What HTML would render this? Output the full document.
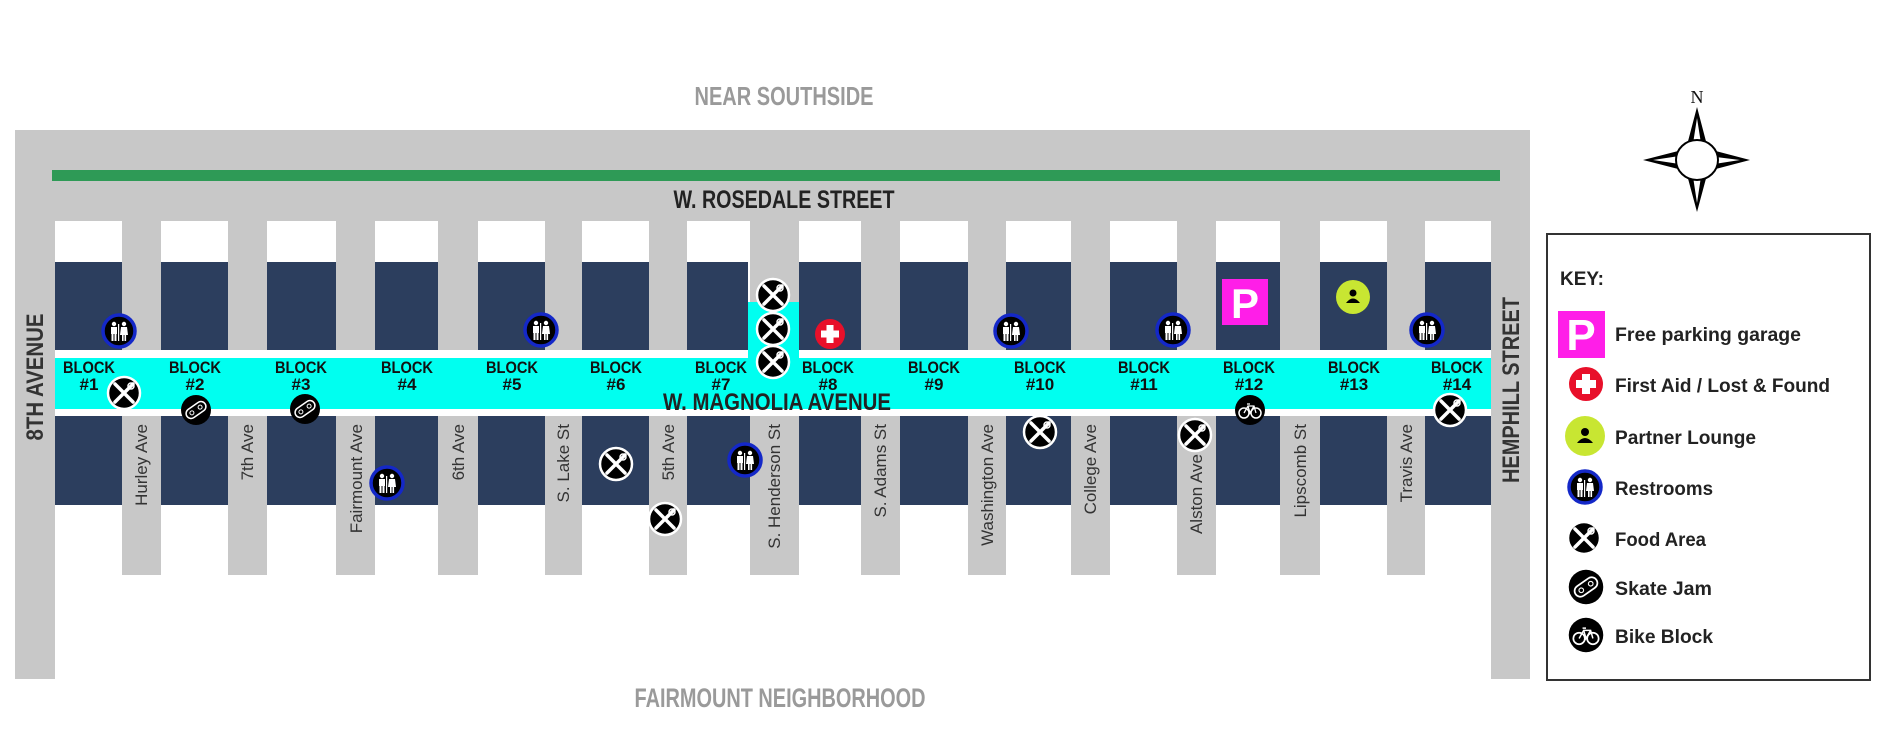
<!DOCTYPE html>
<html><head><meta charset="utf-8"><style>
html,body{margin:0;padding:0;background:#fff;}
svg{display:block;}
.cn{font-family:"Liberation Sans Narrow","Liberation Sans",sans-serif;font-weight:bold;}
.st{font-family:"Liberation Sans",sans-serif;font-size:17px;fill:#333;}
.bl{font-family:"Liberation Sans Narrow","Liberation Sans",sans-serif;font-weight:bold;font-size:17px;fill:#111;text-anchor:middle;}
.lg{font-family:"Liberation Sans",sans-serif;font-weight:bold;font-size:19px;fill:#222;}
</style></head><body>
<svg width="1900" height="752" viewBox="0 0 1900 752" xmlns="http://www.w3.org/2000/svg">
<defs>
<g id="food"><circle r="16" fill="#000" stroke="#fff" stroke-width="2.5"/><path d="M-9,-9 L9,9 M9,-9 L-9,9" stroke="#fff" stroke-width="3.5" stroke-linecap="round"/><circle cx="7" cy="-7" r="3" fill="none" stroke="#fff" stroke-width="1.5"/></g>
<g id="rest"><circle r="16" fill="#000" stroke="#1428c8" stroke-width="3.5"/><circle cx="-5" cy="-7" r="2.2" fill="#fff"/><rect x="-8" y="-4" width="6" height="7" fill="#fff"/><rect x="-7.5" y="3" width="2" height="7" fill="#fff"/><rect x="-4.5" y="3" width="2" height="7" fill="#fff"/><rect x="-1" y="-7" width="1.2" height="17" fill="#fff"/><circle cx="5" cy="-7" r="2.2" fill="#fff"/><path d="M2,-4 L8,-4 L9,4 L1,4 Z" fill="#fff"/><rect x="3" y="4" width="1.6" height="6" fill="#fff"/><rect x="5.5" y="4" width="1.6" height="6" fill="#fff"/></g>
<g id="skate"><circle r="15" fill="#000"/><g transform="rotate(-35)"><rect x="-11" y="-5" width="22" height="10" rx="5" fill="none" stroke="#fff" stroke-width="1.5"/><circle cx="-5" cy="0" r="2" fill="none" stroke="#fff" stroke-width="1"/><circle cx="5" cy="0" r="2" fill="none" stroke="#fff" stroke-width="1"/></g></g>
<g id="bike"><circle r="15" fill="#000"/><circle cx="-6" cy="3" r="5" fill="none" stroke="#fff" stroke-width="1.5"/><circle cx="6" cy="3" r="5" fill="none" stroke="#fff" stroke-width="1.5"/><path d="M-6,3 L-2,-4 L4,-4 L6,3 M-2,-4 L0,3 L4,-4 M-3,-6 L0,-6" fill="none" stroke="#fff" stroke-width="1.3"/></g>
</defs>

<rect x="15" y="130" width="1515" height="549" fill="#c8c8c8"/>
<rect x="52" y="170" width="1448" height="11" fill="#2e9a56"/>

<g fill="#fff">
<rect x="55" y="221" width="67" height="458"/>
<rect x="161" y="221" width="67" height="458"/>
<rect x="267" y="221" width="69" height="458"/>
<rect x="375" y="221" width="63" height="458"/>
<rect x="478" y="221" width="67" height="458"/>
<rect x="582" y="221" width="67" height="458"/>
<rect x="687" y="221" width="63" height="458"/>
<rect x="799" y="221" width="62" height="458"/>
<rect x="900" y="221" width="68" height="458"/>
<rect x="1006" y="221" width="65" height="458"/>
<rect x="1110" y="221" width="67" height="458"/>
<rect x="1216" y="221" width="64" height="458"/>
<rect x="1320" y="221" width="67" height="458"/>
<rect x="1425" y="221" width="66" height="458"/>
<rect x="55" y="575" width="1436" height="104"/>
<rect x="55" y="350" width="1436" height="66"/>
</g>
<rect x="55" y="358" width="1436" height="51" fill="#00fff0"/>
<rect x="748" y="302" width="51" height="56" fill="#00fff0"/>

<g fill="#2c3e5e">
<rect x="55" y="262" width="67" height="88"/><rect x="55" y="416" width="67" height="89"/>
<rect x="161" y="262" width="67" height="88"/><rect x="161" y="416" width="67" height="89"/>
<rect x="267" y="262" width="69" height="88"/><rect x="267" y="416" width="69" height="89"/>
<rect x="375" y="262" width="63" height="88"/><rect x="375" y="416" width="63" height="89"/>
<rect x="478" y="262" width="67" height="88"/><rect x="478" y="416" width="67" height="89"/>
<rect x="582" y="262" width="67" height="88"/><rect x="582" y="416" width="67" height="89"/>
<rect x="687" y="262" width="61" height="88"/><rect x="687" y="416" width="63" height="89"/>
<rect x="799" y="262" width="62" height="88"/><rect x="799" y="416" width="62" height="89"/>
<rect x="900" y="262" width="68" height="88"/><rect x="900" y="416" width="68" height="89"/>
<rect x="1006" y="262" width="65" height="88"/><rect x="1006" y="416" width="65" height="89"/>
<rect x="1110" y="262" width="67" height="88"/><rect x="1110" y="416" width="67" height="89"/>
<rect x="1216" y="262" width="64" height="88"/><rect x="1216" y="416" width="64" height="89"/>
<rect x="1320" y="262" width="67" height="88"/><rect x="1320" y="416" width="67" height="89"/>
<rect x="1425" y="262" width="66" height="88"/><rect x="1425" y="416" width="66" height="89"/>
</g>

<text class="cn" x="784" y="105" font-size="26" fill="#9a9a9a" text-anchor="middle" textLength="179" lengthAdjust="spacingAndGlyphs">NEAR SOUTHSIDE</text>
<text class="cn" x="784" y="208" font-size="25" fill="#222" text-anchor="middle" textLength="221" lengthAdjust="spacingAndGlyphs">W. ROSEDALE STREET</text>
<text class="cn" x="777" y="410" font-size="24" fill="#222" text-anchor="middle" textLength="228" lengthAdjust="spacingAndGlyphs">W. MAGNOLIA AVENUE</text>
<text class="cn" x="780" y="707" font-size="27" fill="#9a9a9a" text-anchor="middle" textLength="291" lengthAdjust="spacingAndGlyphs">FAIRMOUNT NEIGHBORHOOD</text>
<text class="cn" transform="translate(43,377) rotate(-90)" font-size="24" fill="#333" text-anchor="middle" textLength="127" lengthAdjust="spacingAndGlyphs">8TH AVENUE</text>
<text class="cn" transform="translate(1519,390) rotate(-90)" font-size="24" fill="#333" text-anchor="middle" textLength="186" lengthAdjust="spacingAndGlyphs">HEMPHILL STREET</text>

<g class="bl">
<text x="89" y="373" textLength="52" lengthAdjust="spacingAndGlyphs">BLOCK</text><text x="89" y="390">#1</text>
<text x="195" y="373" textLength="52" lengthAdjust="spacingAndGlyphs">BLOCK</text><text x="195" y="390">#2</text>
<text x="301" y="373" textLength="52" lengthAdjust="spacingAndGlyphs">BLOCK</text><text x="301" y="390">#3</text>
<text x="407" y="373" textLength="52" lengthAdjust="spacingAndGlyphs">BLOCK</text><text x="407" y="390">#4</text>
<text x="512" y="373" textLength="52" lengthAdjust="spacingAndGlyphs">BLOCK</text><text x="512" y="390">#5</text>
<text x="616" y="373" textLength="52" lengthAdjust="spacingAndGlyphs">BLOCK</text><text x="616" y="390">#6</text>
<text x="721" y="373" textLength="52" lengthAdjust="spacingAndGlyphs">BLOCK</text><text x="721" y="390">#7</text>
<text x="828" y="373" textLength="52" lengthAdjust="spacingAndGlyphs">BLOCK</text><text x="828" y="390">#8</text>
<text x="934" y="373" textLength="52" lengthAdjust="spacingAndGlyphs">BLOCK</text><text x="934" y="390">#9</text>
<text x="1040" y="373" textLength="52" lengthAdjust="spacingAndGlyphs">BLOCK</text><text x="1040" y="390">#10</text>
<text x="1144" y="373" textLength="52" lengthAdjust="spacingAndGlyphs">BLOCK</text><text x="1144" y="390">#11</text>
<text x="1249" y="373" textLength="52" lengthAdjust="spacingAndGlyphs">BLOCK</text><text x="1249" y="390">#12</text>
<text x="1354" y="373" textLength="52" lengthAdjust="spacingAndGlyphs">BLOCK</text><text x="1354" y="390">#13</text>
<text x="1457" y="373" textLength="52" lengthAdjust="spacingAndGlyphs">BLOCK</text><text x="1457" y="390">#14</text>
</g>

<g class="st" text-anchor="end">
<text transform="translate(147,424) rotate(-90)">Hurley Ave</text>
<text transform="translate(253,424) rotate(-90)">7th Ave</text>
<text transform="translate(362,424) rotate(-90)">Fairmount Ave</text>
<text transform="translate(464,424) rotate(-90)">6th Ave</text>
<text transform="translate(569,424) rotate(-90)">S. Lake St</text>
<text transform="translate(674,424) rotate(-90)">5th Ave</text>
<text transform="translate(780,424) rotate(-90)">S. Henderson St</text>
<text transform="translate(886,424) rotate(-90)">S. Adams St</text>
<text transform="translate(993,424) rotate(-90)">Washington Ave</text>
<text transform="translate(1096,424) rotate(-90)">College Ave</text>
<text transform="translate(1202,454) rotate(-90)">Alston Ave</text>
<text transform="translate(1306,424) rotate(-90)">Lipscomb St</text>
<text transform="translate(1412,424) rotate(-90)">Travis Ave</text>
</g>

<use href="#rest" x="119" y="331"/>
<use href="#food" x="124" y="393"/>
<use href="#skate" x="196" y="410"/>
<use href="#skate" x="305" y="409"/>
<use href="#rest" x="387" y="483"/>
<use href="#rest" x="541" y="330"/>
<use href="#food" x="616" y="464"/>
<use href="#food" x="665" y="519"/>
<use href="#rest" x="745" y="460"/>
<use href="#food" x="773" y="295"/>
<use href="#food" x="773" y="329"/>
<use href="#food" x="773" y="362"/>
<g transform="translate(830,334)"><circle r="15" fill="#e8102a"/><rect x="-9" y="-3.5" width="18" height="7" fill="#fff"/><rect x="-3.5" y="-9" width="7" height="18" fill="#fff"/></g>
<use href="#rest" x="1011" y="331"/>
<use href="#food" x="1040" y="432"/>
<use href="#rest" x="1173" y="330"/>
<use href="#food" x="1195" y="435"/>
<rect x="1222" y="279" width="46" height="46" fill="#ff1ee8"/>
<text x="1245" y="318" font-family="Liberation Sans,sans-serif" font-weight="bold" font-size="42" fill="#fff" text-anchor="middle">P</text>
<use href="#bike" x="1250" y="410"/>
<g transform="translate(1353,297)"><circle r="17" fill="#c8e632"/><circle cy="-4" r="3.5" fill="#000"/><path d="M-7,6 Q0,-3 7,6 Z" fill="#000"/></g>
<use href="#rest" x="1427" y="330"/>
<use href="#food" x="1450" y="410"/>

<text x="1697" y="103" font-family="Liberation Serif,serif" font-size="18" fill="#111" text-anchor="middle">N</text>
<polygon points="1697,107 1708,149 1750,160 1708,171 1697,212 1686,171 1643,160 1686,149" fill="#000"/>
<polygon points="1697,118 1702,150 1692,150" fill="#fff"/>
<polygon points="1740,160 1708,165 1708,156" fill="#fff"/>
<polygon points="1697,203 1692,170 1702,170" fill="#fff"/>
<polygon points="1653,160 1686,155 1686,165" fill="#fff"/>
<ellipse cx="1697" cy="160" rx="21" ry="20" fill="#fff" stroke="#000" stroke-width="2"/>

<rect x="1547" y="234" width="323" height="446" fill="#fff" stroke="#333" stroke-width="2"/>
<text class="lg" x="1560" y="285" font-size="21">KEY:</text>
<rect x="1558" y="311" width="47" height="47" fill="#ff1ee8"/>
<text x="1581" y="350" font-family="Liberation Sans,sans-serif" font-weight="bold" font-size="44" fill="#fff" text-anchor="middle">P</text>
<text class="lg" x="1615" y="341" textLength="186" lengthAdjust="spacingAndGlyphs">Free parking garage</text>
<g transform="translate(1586,384)"><circle r="17" fill="#e8102a"/><rect x="-10" y="-4" width="20" height="8" fill="#fff"/><rect x="-4" y="-10" width="8" height="20" fill="#fff"/></g>
<text class="lg" x="1615" y="392" textLength="215" lengthAdjust="spacingAndGlyphs">First Aid / Lost &amp; Found</text>
<g transform="translate(1585,436)"><circle r="20" fill="#c8e632"/><circle cy="-4" r="4" fill="#000"/><path d="M-8,7 Q0,-3 8,7 Z" fill="#000"/></g>
<text class="lg" x="1615" y="444" textLength="141" lengthAdjust="spacingAndGlyphs">Partner Lounge</text>
<use href="#rest" x="1585" y="487"/>
<text class="lg" x="1615" y="495" textLength="98" lengthAdjust="spacingAndGlyphs">Restrooms</text>
<use href="#food" x="1584" y="538"/>
<text class="lg" x="1615" y="546" textLength="91" lengthAdjust="spacingAndGlyphs">Food Area</text>
<use href="#skate" x="1586" y="587" transform="translate(1586,587) scale(1.15) translate(-1586,-587)"/>
<text class="lg" x="1615" y="595" textLength="97" lengthAdjust="spacingAndGlyphs">Skate Jam</text>
<use href="#bike" x="1586" y="635" transform="translate(1586,635) scale(1.15) translate(-1586,-635)"/>
<text class="lg" x="1615" y="643" textLength="98" lengthAdjust="spacingAndGlyphs">Bike Block</text>
</svg>
</body></html>
